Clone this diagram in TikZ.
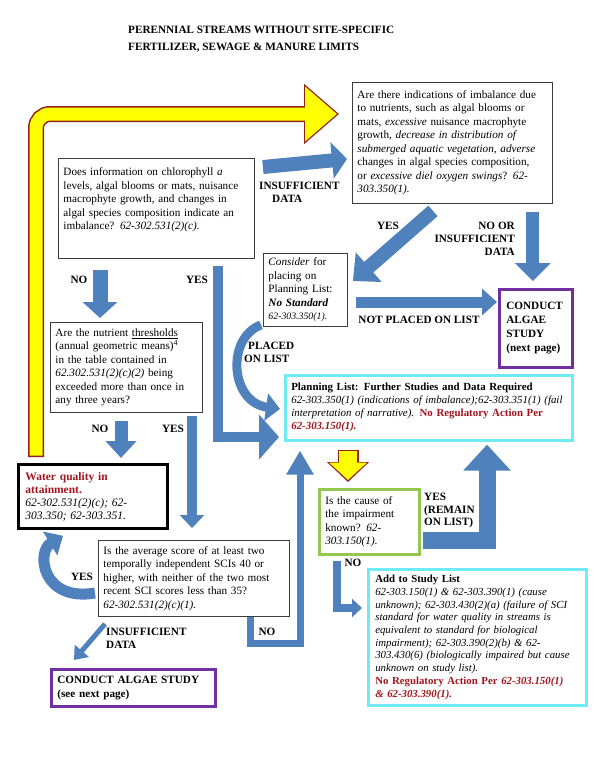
\documentclass[tikz,border=0pt]{standalone}
\usepackage{fontspec}
\setmainfont{Liberation Serif}
\usetikzlibrary{arrows.meta,calc}

\definecolor{arrowblue}{RGB}{79,129,189}
\definecolor{arrowyellow}{RGB}{255,255,0}
\definecolor{yellowedge}{RGB}{150,32,22}
\definecolor{darkred}{RGB}{160,22,30}
\definecolor{studypurple}{RGB}{112,48,160}
\definecolor{listcyan}{RGB}{110,235,245}
\definecolor{causegreen}{RGB}{146,200,80}
\definecolor{boxgray}{RGB}{60,60,60}

\tikzset{
  qbox/.style={draw=boxgray, line width=0.9pt, fill=white, anchor=north west, align=left,
    inner xsep=6pt, inner ysep=4pt, font=\fontsize{11.2}{13.5}\selectfont},
  studybox/.style={qbox, draw=studypurple, line width=2.6pt, font=\bfseries\fontsize{11.2}{14}\selectfont},
  listbox/.style={qbox, draw=listcyan, line width=2.6pt},
  lbl/.style={font=\bfseries\fontsize{11.2}{13}\selectfont, inner sep=0pt},
  blue arrow/.style n args={3}{draw=arrowblue, line width=#1, -{Triangle[length=#2, width=#3]}},
}

\begin{document}
\begin{tikzpicture}[x=1pt, y=-1pt]
  \fill[white] (0,0) rectangle (600,777);
  \useasboundingbox (0,0) rectangle (600,777);

  % title
  \node[anchor=north west, align=left, inner sep=0pt, font=\bfseries\fontsize{11.2}{17}\selectfont] (title) at (128,26)
    {PERENNIAL STREAMS WITHOUT SITE-SPECIFIC\\FERTILIZER, SEWAGE \& MANURE LIMITS};

  % boxes
  \node[qbox, text width=190pt, inner xsep=5pt, minimum height=121pt] (indic) at (352,82)
    {Are there indications of imbalance due\\
     to nutrients, such as algal blooms or\\
     mats, \textit{excessive} nuisance macrophyte\\
     growth, \textit{decrease in distribution of}\\
     \textit{submerged aquatic vegetation, adverse}\\
     changes in algal species composition,\\
     or \textit{excessive diel oxygen swings}? \textit{62-}\\
     \textit{303.350(1).}};
  \node[qbox, text width=186pt, inner xsep=5pt, minimum height=100pt] (chloro) at (58,158)
    {Does information on chlorophyll \textit{a}\\
     levels, algal blooms or mats, nuisance\\
     macrophyte growth, and changes in\\
     algal species composition indicate an\\
     imbalance? \textit{62-302.531(2)(c).}\\[6pt] \mbox{}};
  \node[qbox, text width=74pt, inner xsep=5pt, minimum height=73pt] (consider) at (263,253)
    {\textit{Consider} for\\ placing on\\ Planning List:\\ \textbf{\textit{No Standard}}\\
     {\fontsize{9.8}{13.5}\selectfont\textit{62-303.350(1).}}};
  \node[studybox, text width=59pt, inner xsep=7pt, minimum height=78pt] (algae1) at (498,288)
    {CONDUCT\\ALGAE\\STUDY\\(next page)};
  \node[qbox, text width=142pt, inner xsep=5pt, minimum height=90pt] (thresh) at (50,322)
    {Are the nutrient \underline{thresholds}\\
     (annual geometric means)\textsuperscript{4}\\
     in the table contained in\\
     \textit{62.302.531(2)(c)(2)} being\\
     exceeded more than once in\\
     any three years?};
  \node[qbox, draw=black, line width=2.8pt, text width=135pt, inner xsep=7pt, minimum height=64pt,
        font=\fontsize{11.5}{13}\selectfont] (attain) at (17,463)
    {\textcolor{darkred}{\textbf{Water quality in}}\\
     \textcolor{darkred}{\textbf{attainment.}}\\
     \textit{62-302.531(2)(c); 62-}\\
     \textit{303.350; 62-303.351.}};
  \node[qbox, text width=181pt, inner xsep=5pt, minimum height=76pt] (sci) at (98,540)
    {Is the average score of at least two\\
     temporally independent SCIs 40 or\\
     higher, with neither of the two most\\
     recent SCI scores less than 35?\\
     \textit{62-302.531(2)(c)(1).}};
  \node[studybox, text width=152pt, minimum height=37pt] (algae2) at (50,668)
    {CONDUCT ALGAE STUDY\\(see next page)};
  \node[listbox, text width=275pt, inner xsep=6pt, minimum height=65pt, font=\fontsize{10.9}{13}\selectfont] (planning) at (284,374)
    {\textbf{Planning List: Further Studies and Data Required}\\
     \textit{62-303.350(1) (indications of imbalance);62-303.351(1) (fail}\\
     \textit{interpretation of narrative).} \textcolor{darkred}{\textbf{No Regulatory Action Per}}\\
     \textcolor{darkred}{\textbf{\textit{62-303.150(1).}}}};
  \node[qbox, draw=causegreen, line width=2.6pt, text width=88pt, inner xsep=6pt, minimum height=65pt] (cause) at (318,488)
    {Is the cause of\\ the impairment\\ known? \textit{62-}\\ \textit{303.150(1).}};
  \node[listbox, text width=204pt, inner xsep=7pt, minimum height=136pt, font=\fontsize{10.8}{12.7}\selectfont] (study) at (367,568)
    {\textbf{Add to Study List}\\
     \textit{62-303.150(1) \& 62-303.390(1) (cause}\\
     \textit{unknown); 62-303.430(2)(a) (failure of SCI}\\
     \textit{standard for water quality in streams is}\\
     \textit{equivalent to standard for biological}\\
     \textit{impairment); 62-303.390(2)(b) \& 62-}\\
     \textit{303.430(6) (biologically impaired but cause}\\
     \textit{unknown on study list).}\\
     \textcolor{darkred}{\textbf{No Regulatory Action Per \textit{62-303.150(1)}}}\\
     \textcolor{darkred}{\textbf{\textit{\& 62-303.390(1).}}}};

  % yellow arrows
  \draw[yellowedge, line width=16pt, rounded corners=14pt, -{Triangle[length=35pt, width=58pt]}]
    ($(attain.north west)+(19,-6)$) |- ($(indic.north west)+(-13,32)$);
  \draw[arrowyellow, line width=13pt, rounded corners=14pt, shorten <=1.5pt, shorten >=2pt,
        -{Triangle[length=32pt, width=53pt]}]
    ($(attain.north west)+(19,-6)$) |- ($(indic.north west)+(-13,32)$);
  \draw[yellowedge, line width=21pt, -{Triangle[length=20pt, width=41pt]}]
    ($(planning.south west)+(64,8)$) -- ($(cause.north west)+(30,-6)$);
  \draw[arrowyellow, line width=18pt, shorten <=1.5pt, shorten >=2pt, -{Triangle[length=17.5pt, width=37pt]}]
    ($(planning.south west)+(64,8)$) -- ($(cause.north west)+(30,-6)$);

  % blue arrows
  \draw[blue arrow={14pt}{15pt}{36pt}] ($(chloro.north east)+(8,9)$) -- ($(indic.north west)+(-5,77)$);
  \draw[blue arrow={14pt}{21pt}{38pt}] ($(indic.south west)+(81,7)$) -- ($(consider.north east)+(5,28)$);
  \draw[blue arrow={13pt}{18pt}{35pt}] ($(indic.south east)+(-20,8)$) -- ($(indic.south east |- algae1.north)+(-20,-7)$);
  \draw[blue arrow={11pt}{15pt}{26pt}] ($(consider.north east)+(8,49)$) -- ($(algae1.north west)+(-1,14)$);
  \draw[blue arrow={15pt}{16pt}{34pt}] ($(chloro.south west)+(42,11)$) -- ($(thresh.north west)+(50,-4)$);
  \draw[blue arrow={10pt}{20pt}{44pt}] ($(chloro.south west)+(160,7)$) |- ($(planning.north west)+(-5,63)$);
  \draw[blue arrow={9pt}{14pt}{27pt}] ($(consider.south west)+(-2,-2)$)
    .. controls (226,338) and (230,402) .. ($(planning.north west)+(-4,35)$);
  \draw[blue arrow={13pt}{17pt}{30pt}] ($(thresh.south west)+(71,8)$) -- ($(attain.north west)+(104,-5)$);
  \draw[blue arrow={10pt}{13pt}{24pt}] ($(thresh.south west)+(142,3)$) -- ($(sci.north west)+(94,-12)$);
  \draw[blue arrow={11pt}{15pt}{27pt}] ($(sci.north west)+(-3,53)$)
    .. controls (42,602) and (36,552) .. ($(attain.south west)+(46,6)$);
  \draw[blue arrow={5pt}{12pt}{18pt}] ($(sci.south west)+(7,7)$) -- ($(algae2.north west)+(24,-8)$);
  \draw[blue arrow={7pt}{24pt}{26pt}] ($(sci.south west)+(152,0)$) -- ++(0,27) -| ($(planning.south west)+(16,9)$);
  \draw[blue arrow={17pt}{26pt}{46pt}] ($(cause.south east)+(2,-15)$) -| ($(planning.south west)+(203,3)$);
  \draw[blue arrow={8pt}{10pt}{18pt}] ($(cause.south west)+(19,5)$) |- ($(study.north west)+(-5,40)$);

  % labels
  \node[lbl, anchor=north west, align=left] (insufA) at (259,182) {INSUFFICIENT\\\hspace*{13pt}DATA};
  \node[lbl] (yesA) at (388,226) {YES};
  \node[lbl, anchor=east, align=right] (noor) at (515,239) {NO OR\\INSUFFICIENT\\DATA};
  \node[lbl] (notplaced) at (419,320) {NOT PLACED ON LIST};
  \node[lbl, anchor=north west, align=left] (placed) at (244,342) {\hspace*{4pt}PLACED\\ON LIST};
  \node[lbl] (noA) at (79,280) {NO};
  \node[lbl] (yesB) at (197,280) {YES};
  \node[lbl] (noB) at (100,429) {NO};
  \node[lbl] (yesC) at (173,429) {YES};
  \node[lbl] (yesD) at (82,577) {YES};
  \node[lbl, anchor=north west, align=left] (insufB) at (106,628) {INSUFFICIENT\\DATA};
  \node[lbl] (noC) at (267,632) {NO};
  \node[lbl, anchor=north west, align=left, font=\bfseries\fontsize{11.2}{12.5}\selectfont] (remain) at (424,493)
    {YES\\(REMAIN\\ON LIST)};
  \node[lbl] (noD) at (353,563) {NO};
\end{tikzpicture}
\end{document}
